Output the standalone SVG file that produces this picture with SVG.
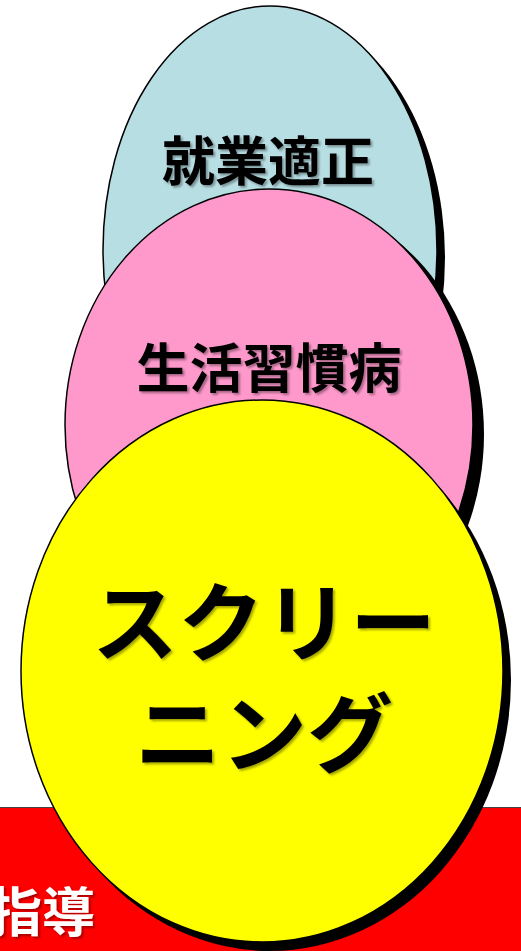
<svg xmlns="http://www.w3.org/2000/svg" width="521" height="951" viewBox="0 0 521 951">
<defs>
<filter id="ts" x="-10%" y="-10%" width="130%" height="140%">
<feDropShadow dx="2" dy="2" stdDeviation="1.2" flood-color="#000" flood-opacity="0.35"/>
</filter>
</defs>
<style>
.sh{fill:#000;}
.el{stroke:#000;stroke-width:1.5;}
.lbl{font-family:"Noto Sans CJK JP","Noto Sans CJK SC",sans-serif;font-weight:bold;text-anchor:middle;fill:#000;filter:url(#ts);}
</style>
<rect width="521" height="951" fill="#fff"/>
<g id="shidou">
<rect x="-5" y="807.5" width="531" height="150" fill="#ff0000" stroke="#444" stroke-width="1"/>
<text x="95" y="932" class="lbl" style="text-anchor:end;fill:#fff;font-size:53px">指導</text>
</g>
<g id="shugyo">
<ellipse class="sh" cx="278" cy="258" rx="167" ry="244"/>
<ellipse class="el" cx="270" cy="250" rx="167" ry="244" fill="#b7dee3"/>
<text x="268" y="181" class="lbl" style="font-size:53px">就業適正</text>
</g>
<g id="seikatsu">
<ellipse class="sh" cx="280" cy="434" rx="204" ry="236"/>
<ellipse class="el" cx="269" cy="425" rx="204" ry="236" fill="#ff99cc"/>
<text x="269" y="388" class="lbl" style="font-size:53px">生活習慣病</text>
</g>
<g id="screening">
<ellipse class="sh" cx="270" cy="680" rx="241" ry="271"/>
<ellipse class="el" cx="262" cy="671" rx="241" ry="271" fill="#ffff00"/>
<text x="264" y="655" class="lbl" style="font-size:86px">スクリー</text>
<text x="264" y="766" class="lbl" style="font-size:86px">ニング</text>
</g>
<g id="connectors"/>
</svg>
